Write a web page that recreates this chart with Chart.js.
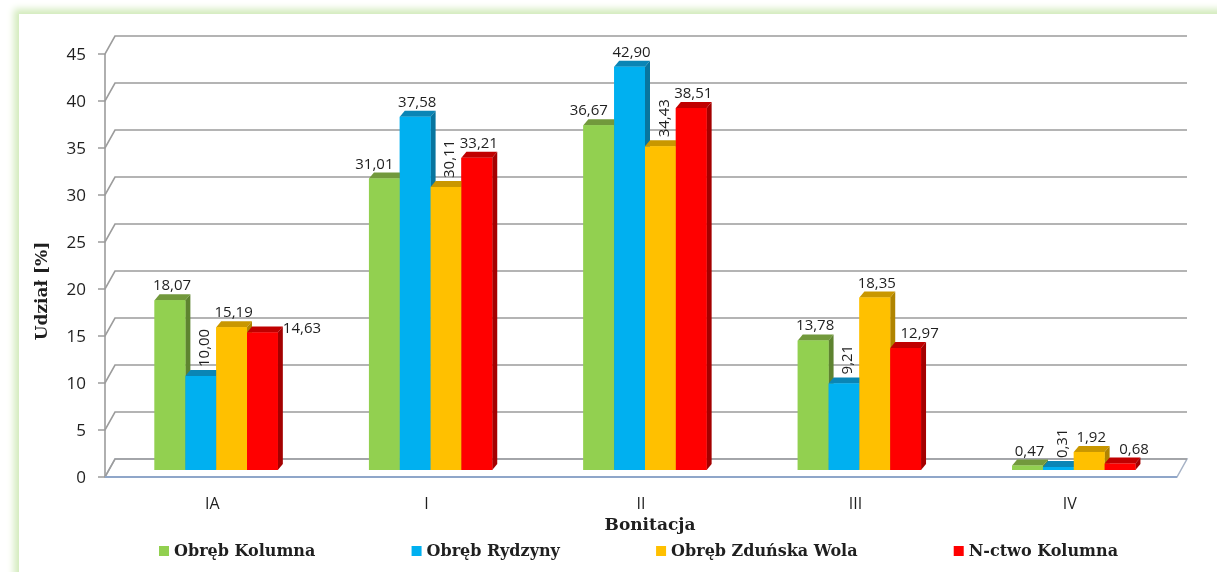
<!DOCTYPE html>
<html>
<head>
<meta charset="utf-8">
<script src="https://cdn.jsdelivr.net/npm/chart.js@4"></script>
<style>
  html, body { margin: 0; padding: 0; background: #fff; overflow: hidden; }
  #frame { position: absolute; left: 19px; top: 14px; width: 1300px; height: 700px; background: #fff; box-shadow: 0 0 7px 5px #d3ebbd; }
  #chart { position: absolute; left: 0; top: 0; }
</style>
</head>
<body>
<div id="frame"></div>
<canvas id="chart" width="1217" height="572"></canvas>
<script>
// dane
const categories = ['IA', 'I', 'II', 'III', 'IV'];
const seriesNames = ['Obręb Kolumna', 'Obręb Rydzyny', 'Obręb Zduńska Wola', 'N-ctwo Kolumna'];
const obrebKolumna = [18.07, 31.01, 36.67, 13.78, 0.47];
const obrebRydzyny = [10.00, 37.58, 42.90, 9.21, 0.31];
const obrebZdunskaWola = [15.19, 30.11, 34.43, 18.35, 1.92];
const nctwoKolumna = [14.63, 33.21, 38.51, 12.97, 0.68];
const yTicks = [0, 5, 10, 15, 20, 25, 30, 35, 40, 45];
const xTitle = 'Bonitacja';
const yTitle = 'Udział [%]';

const frontColors = ['#92D050', '#00B0F0', '#FFC000', '#FF0000'];
const topColors = ['#72993c', '#0a85b5', '#c99700', '#c00000'];
const sideColors = ['#5e8330', '#08759f', '#b08400', '#a40000'];

// przesuniecia "3D" wzgledem plaszczyzny slupkow
const F = { dx: -4, dy: 7 };   // przednia krawedz
const B = { dx: 6, dy: -11 };  // tylna sciana
const D = { dx: 5, dy: -6 };   // glebokosc slupka

const LABEL_FONT = '15px "Open Sans"';
const TICK_FONT = '17px "Open Sans"';
const CAT_FONT = '16px "Open Sans"';
const TITLE_FONT = 'bold 17px "DejaVu Serif"';
const LEGEND_FONT = 'bold 16px "DejaVu Serif"';
const TEXT = '#1f1f1f';

const fmt = v => v.toFixed(2).replace('.', ',');

const depthPlugin = {
    id: 'depth',
    beforeDatasetsDraw(chart) {
        const ctx = chart.ctx;
        const xs = chart.scales.x, ys = chart.scales.y;
        const L = chart.chartArea.left, R = chart.chartArea.right;
        const y0 = ys.getPixelForValue(0);
        ctx.save();

        // podloga
        ctx.beginPath();
        ctx.moveTo(L + F.dx, y0 + F.dy);
        ctx.lineTo(R + F.dx, y0 + F.dy);
        ctx.lineTo(R + B.dx, y0 + B.dy);
        ctx.lineTo(L + B.dx, y0 + B.dy);
        ctx.closePath();
        ctx.fillStyle = '#fff';
        ctx.fill();
        ctx.strokeStyle = '#a7b3c6';
        ctx.lineWidth = 1.5;
        ctx.stroke();

        // linie siatki + tick
        ctx.strokeStyle = '#9c9c9c';
        ctx.lineWidth = 1.6;
        ctx.font = TICK_FONT;
        ctx.fillStyle = TEXT;
        ctx.textAlign = 'right';
        ctx.textBaseline = 'middle';
        yTicks.forEach(t => {
            const y = ys.getPixelForValue(t);
            ctx.beginPath();
            ctx.moveTo(L + F.dx - 7, y + F.dy);
            ctx.lineTo(L + F.dx, y + F.dy);
            ctx.lineTo(L + B.dx, y + B.dy);
            ctx.lineTo(R + B.dx, y + B.dy);
            ctx.stroke();
            ctx.fillText(String(t), L + F.dx - 19, y + F.dy + 1);
        });

        // os pionowa
        ctx.beginPath();
        ctx.moveTo(L + F.dx, ys.getPixelForValue(yTicks[yTicks.length - 1]) + F.dy);
        ctx.lineTo(L + F.dx, y0 + F.dy);
        ctx.stroke();

        // przednia krawedz podlogi
        ctx.beginPath();
        ctx.strokeStyle = '#8fa6c9';
        ctx.lineWidth = 2;
        ctx.moveTo(L + F.dx, y0 + F.dy);
        ctx.lineTo(R + F.dx, y0 + F.dy);
        ctx.stroke();

        // etykiety kategorii
        ctx.font = CAT_FONT;
        ctx.textAlign = 'center';
        categories.forEach((c, i) => {
            ctx.fillText(c, xs.getPixelForValue(i) + F.dx, y0 + F.dy + 27);
        });

        // tytuly osi
        ctx.font = TITLE_FONT;
        ctx.fillText(xTitle, 650, 526);
        ctx.save();
        ctx.translate(43, 291);
        ctx.rotate(-Math.PI / 2);
        ctx.fillText(yTitle, 0, 0);
        ctx.restore();

        // legenda
        ctx.font = LEGEND_FONT;
        ctx.textAlign = 'left';
        const box = 10, boxGap = 5;
        const widths = seriesNames.map(n => box + boxGap + ctx.measureText(n).width);
        const start = 159, end = 1118;
        const gap = (end - start - widths.reduce((a, b) => a + b, 0)) / (widths.length - 1);
        let lx = start;
        seriesNames.forEach((n, d) => {
            ctx.fillStyle = frontColors[d];
            ctx.fillRect(lx, 546, box, box);
            ctx.fillStyle = TEXT;
            ctx.fillText(n, lx + box + boxGap, 552);
            lx += widths[d] + gap;
        });

        ctx.restore();
    },
    afterDatasetsDraw(chart) {
        const ctx = chart.ctx;
        const metas = chart.data.datasets.map((ds, d) => chart.getDatasetMeta(d));
        ctx.save();

        // bryly slupkow, od lewej do prawej
        categories.forEach((c, i) => {
            metas.forEach((m, d) => {
                const el = m.data[i];
                const { x, y, base, width } = el.getProps(['x', 'y', 'base', 'width'], true);
                const l = x - width / 2, r = x + width / 2;
                ctx.fillStyle = topColors[d];
                ctx.beginPath();
                ctx.moveTo(l, y);
                ctx.lineTo(r, y);
                ctx.lineTo(r + D.dx, y + D.dy);
                ctx.lineTo(l + D.dx, y + D.dy);
                ctx.closePath();
                ctx.fill();
                ctx.fillStyle = sideColors[d];
                ctx.beginPath();
                ctx.moveTo(r, y);
                ctx.lineTo(r + D.dx, y + D.dy);
                ctx.lineTo(r + D.dx, base + D.dy);
                ctx.lineTo(r, base);
                ctx.closePath();
                ctx.fill();
                ctx.fillStyle = frontColors[d];
                ctx.fillRect(l, y, width, base - y);
            });
        });

        // etykiety danych
        ctx.font = LABEL_FONT;
        ctx.fillStyle = TEXT;
        categories.forEach((c, i) => {
            const vals = chart.data.datasets.map(ds => ds.data[i]);
            let prev = null;
            metas.forEach((m, d) => {
                const el = m.data[i];
                const v = vals[d];
                const left = vals[d - 1], right = vals[d + 1];
                const txt = fmt(v);
                const w = ctx.measureText(txt).width;
                const yTop = el.y + D.dy;
                if (left !== undefined && right !== undefined && left > v && right > v) {
                    ctx.save();
                    ctx.translate(el.x + 4, yTop - 3);
                    ctx.rotate(-Math.PI / 2);
                    ctx.textAlign = 'left';
                    ctx.textBaseline = 'middle';
                    ctx.fillText(txt, 0, 0);
                    ctx.restore();
                    prev = null;
                    return;
                }
                let cx = el.x + 2;
                if (left === undefined && right > v) cx -= 12;
                if (right === undefined && left > v) cx += 12;
                let bx = { l: cx - w / 2, r: cx + w / 2, t: yTop - 16, b: yTop - 4 };
                ctx.textBaseline = 'alphabetic';
                if (prev && bx.l < prev.r + 8 && bx.t < prev.b && bx.b > prev.t) {
                    const lx = el.x + el.width / 2 + D.dx;
                    ctx.textAlign = 'left';
                    ctx.fillText(txt, lx, el.y + 1);
                    bx = { l: lx, r: lx + w, t: el.y - 11, b: el.y + 1 };
                } else {
                    ctx.textAlign = 'center';
                    ctx.fillText(txt, cx, yTop - 4);
                }
                prev = bx;
            });
        });
        ctx.restore();
    }
};

const series = [obrebKolumna, obrebRydzyny, obrebZdunskaWola, nctwoKolumna];

new Chart(document.getElementById('chart'), {
    type: 'bar',
    data: {
        labels: categories,
        datasets: series.map((data, d) => ({
            label: seriesNames[d],
            data: data,
            backgroundColor: frontColors[d],
            borderWidth: 0,
            categoryPercentage: 0.575,
            barPercentage: 1.0,
        })),
    },
    options: {
        responsive: false,
        animation: false,
        layout: { padding: { left: 109, right: 36, top: 47, bottom: 102 } },
        scales: {
            x: { display: false },
            y: { display: false, min: 0, max: 45 },
        },
        plugins: {
            legend: { display: false },
            tooltip: { enabled: false },
        },
    },
    plugins: [depthPlugin],
});
</script>
</body>
</html>
